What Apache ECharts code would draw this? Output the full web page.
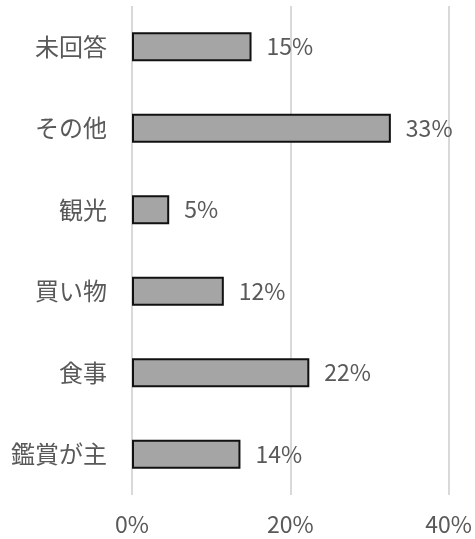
<!DOCTYPE html>
<html>
<head>
<meta charset="utf-8">
<script src="https://cdn.jsdelivr.net/npm/echarts@6/dist/echarts.min.js"></script>
<style>
  html, body { margin: 0; padding: 0; background: #fff; }
  #chart { width: 475px; height: 539px; }
</style>
</head>
<body>
<div id="chart"></div>
<script>
// 項目（上から順）
var categories = ['未回答', 'その他', '観光', '買い物', '食事', '鑑賞が主'];
// 割合 (%)
var values = [15.1, 32.7, 4.7, 11.6, 22.4, 13.7];
// 横軸の目盛
var axisMin = 0;
var axisMax = 40;
var axisStep = 20;

var chart = echarts.init(document.getElementById('chart'));

var font = '"Noto Sans CJK JP", "Noto Sans", sans-serif';
var textColor = '#595959';

var option = {
    animation: false,
    grid: {
        left: 132,
        right: 24,
        top: 6,
        bottom: 44
    },
    xAxis: {
        type: 'value',
        min: axisMin,
        max: axisMax,
        interval: axisStep,
        axisLine: { show: false },
        axisTick: { show: false },
        splitLine: {
            show: true,
            lineStyle: { color: '#d9d9d9', width: 2 }
        },
        axisLabel: {
            formatter: '{value}%',
            color: textColor,
            fontSize: 23,
            fontFamily: font,
            margin: 18
        }
    },
    yAxis: {
        type: 'category',
        data: categories,
        inverse: true,
        axisLine: { show: false },
        axisTick: { show: false },
        axisLabel: {
            color: textColor,
            fontSize: 24,
            fontFamily: font,
            margin: 25
        }
    },
    series: [{
        type: 'bar',
        data: values,
        barWidth: 29,
        itemStyle: {
            color: '#a5a5a5',
            borderColor: '#111111',
            borderWidth: 2
        },
        label: {
            show: true,
            position: 'right',
            distance: 15,
            color: textColor,
            fontSize: 23,
            fontFamily: font,
            formatter: function (p) {
                return Math.round(p.value) + '%';
            }
        }
    }]
};

chart.setOption(option);
</script>
</body>
</html>
